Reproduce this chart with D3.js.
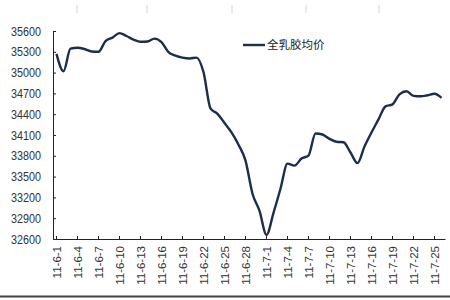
<!DOCTYPE html>
<html>
<head>
<meta charset="utf-8">
<script src="https://cdn.jsdelivr.net/npm/d3@7"></script>
<style>
  body { margin: 0; background: #fff; }
  svg { display: block; }
</style>
</head>
<body>
<div id="chart"></div>
<script>
// Chart data
let days = [
  "11-6-1", "11-6-2", "11-6-3", "11-6-4", "11-6-5", "11-6-6", "11-6-7", "11-6-8",
  "11-6-9", "11-6-10", "11-6-11", "11-6-12", "11-6-13", "11-6-14", "11-6-15", "11-6-16",
  "11-6-17", "11-6-18", "11-6-19", "11-6-20", "11-6-21", "11-6-22", "11-6-23", "11-6-24",
  "11-6-25", "11-6-26", "11-6-27", "11-6-28", "11-6-29", "11-6-30", "11-7-1", "11-7-2",
  "11-7-3", "11-7-4", "11-7-5", "11-7-6", "11-7-7", "11-7-8", "11-7-9", "11-7-10",
  "11-7-11", "11-7-12", "11-7-13", "11-7-14", "11-7-15", "11-7-16", "11-7-17", "11-7-18",
  "11-7-19", "11-7-20", "11-7-21", "11-7-22", "11-7-23", "11-7-24", "11-7-25", "11-7-26"
];
let prices = [
  35270, 35020, 35345, 35358, 35340, 35305, 35300, 35455,
  35505, 35570, 35528, 35477, 35445, 35448, 35490, 35440,
  35296, 35245, 35216, 35204, 35216, 35006, 34484, 34405,
  34274, 34137, 33960, 33730, 33253, 33006, 32660, 32977,
  33325, 33687, 33658, 33760, 33803, 34122, 34107, 34045,
  34003, 33996, 33847, 33695, 33934, 34137, 34325, 34513,
  34542, 34687, 34730, 34665, 34658, 34673, 34694, 34636
];
let y_ticks = [32600, 32900, 33200, 33500, 33800, 34100, 34400, 34700, 35000, 35300, 35600];
let series_name = "全乳胶均价";

let width = 450;
let height = 300;
let plot_left = 53, plot_right = 445, plot_top = 31, plot_bottom = 239;
let line_color = "#1c2d4e";

let svg = d3
    .select("#chart")
    .append("svg")
    .attr("width", width)
    .attr("height", height);

let x = d3.scaleBand().domain(days).range([plot_left, plot_right]);
let y = d3.scaleLinear().domain([32600, 35600]).range([plot_bottom, plot_top]);
let cx = (d) => x(d) + x.bandwidth() / 2;

// faint marks along the top edge
svg.selectAll("line.top-mark")
  .data([77, 147, 232, 306, 379])
  .enter()
  .append("line")
  .attr("x1", (d) => d).attr("x2", (d) => d)
  .attr("y1", 5).attr("y2", 13)
  .attr("stroke", "#d4d4d4");

// Y axis
let yAxis = svg
    .append("g")
    .attr("transform", "translate(" + plot_left + ",0)")
    .call(d3.axisLeft(y).tickValues(y_ticks).tickFormat(d3.format("d"))
      .tickSizeInner(-3).tickSizeOuter(0).tickPadding(12));
yAxis.select(".domain").attr("stroke", "#222");
yAxis.selectAll(".tick line").attr("stroke", "#222");
yAxis.selectAll("text")
  .style("font-family", "Liberation Sans, Arial, sans-serif")
  .style("font-size", "12.5px")
  .attr("fill", "#333")
  .attr("textLength", 30)
  .attr("lengthAdjust", "spacingAndGlyphs");

// X axis
let labelled = days.filter((d, i) => i % 3 == 0);
let xAxis = svg
    .append("g")
    .attr("transform", "translate(0," + plot_bottom + ")")
    .call(d3.axisBottom(x).tickValues(labelled).tickSizeInner(-3).tickSizeOuter(0).tickPadding(0));
xAxis.select(".domain").attr("stroke", "#222").attr("stroke-width", 1.2);
xAxis.selectAll(".tick line").attr("stroke", "#222");
xAxis.selectAll("text")
  .style("font-family", "Liberation Sans, Arial, sans-serif")
  .style("font-size", "11.5px")
  .attr("fill", "#333")
  .attr("text-anchor", "end")
  .attr("transform", "rotate(-90)")
  .attr("x", -7)
  .attr("y", 0)
  .attr("dy", "0.35em");

// Price line
let line = d3.line()
    .x((d, i) => cx(days[i]))
    .y((d) => y(d))
    .curve(d3.curveMonotoneX);

svg.append("path")
  .datum(prices)
  .attr("d", line)
  .attr("fill", "none")
  .attr("stroke", line_color)
  .attr("stroke-width", 2.4)
  .attr("stroke-linejoin", "round");

// Legend
svg.append("line")
  .attr("x1", 243).attr("x2", 265)
  .attr("y1", 45).attr("y2", 45)
  .attr("stroke", line_color)
  .attr("stroke-width", 2.4);
svg.append("text")
  .attr("x", 267)
  .attr("y", 45)
  .attr("dy", "0.36em")
  .style("font-family", "Noto Sans CJK SC")
  .style("font-size", "11.5px")
  .attr("fill", "#222")
  .text(series_name);

// bottom frame edge
svg.append("line")
  .attr("x1", 0).attr("x2", width)
  .attr("y1", 296.5).attr("y2", 296.5)
  .attr("stroke", "#444")
  .attr("stroke-width", 2);
</script>
</body>
</html>
